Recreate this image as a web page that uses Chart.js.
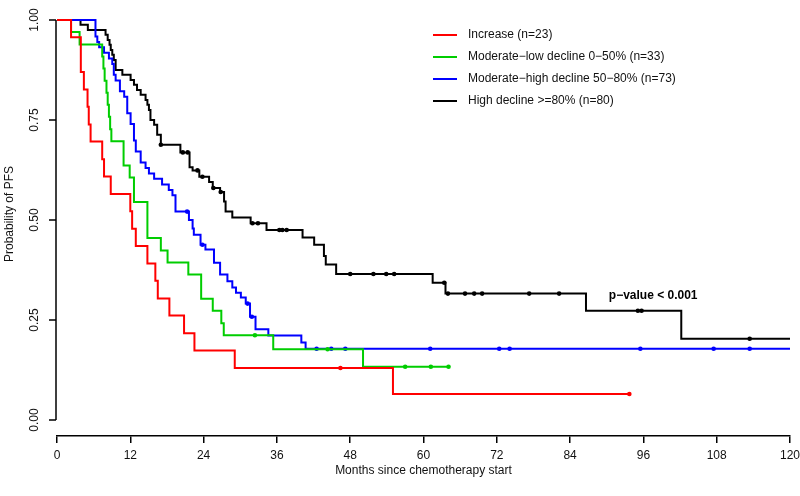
<!DOCTYPE html>
<html>
<head>
<meta charset="utf-8">
<script src="https://cdn.jsdelivr.net/npm/chart.js@4.4.1/dist/chart.umd.min.js"></script>
<style>
  html, body { margin: 0; padding: 0; background: #fff; }
  #wrap { width: 800px; height: 496px; position: relative; }
</style>
</head>
<body>
<div id="wrap"><canvas id="kmChart"></canvas></div>
<script>
// Tick values
const xTicks = [0, 12, 24, 36, 48, 60, 72, 84, 96, 108, 120];
const yTicks = [0, 0.25, 0.5, 0.75, 1];

// Increase (n=23)
const redTimes = [0, 2.3, 3.9, 4.4, 5.0, 5.2, 5.5, 7.4, 7.7, 8.8, 12.0, 12.3, 12.9, 14.8, 16.1, 16.5, 18.4, 20.8, 22.5, 29.1, 55.0];
const redSurv = [1, 0.957, 0.870, 0.826, 0.783, 0.739, 0.696, 0.652, 0.609, 0.565, 0.522, 0.478, 0.435, 0.391, 0.348, 0.304, 0.261, 0.217, 0.174, 0.130, 0.065];
const redCensor = [46.4, 93.7];
const redEnd = 93.7;

// Moderate-low decline (n=33)
const greenTimes = [0, 2.3, 3.7, 7.4, 7.6, 7.8, 8.1, 8.3, 8.5, 8.7, 8.9, 10.9, 11.9, 12.6, 14.8, 17.0, 18.1, 21.5, 23.6, 25.5, 26.9, 27.3, 35.4, 50.1];
const greenSurv = [1, 0.970, 0.939, 0.909, 0.879, 0.848, 0.818, 0.788, 0.758, 0.727, 0.697, 0.636, 0.606, 0.545, 0.455, 0.424, 0.394, 0.364, 0.303, 0.273, 0.242, 0.212, 0.177, 0.133];
const greenCensor = [32.4, 44.3, 57.0, 61.2, 64.1];
const greenEnd = 64.1;

// Moderate-high decline (n=73)
const blueTimes = [0, 6.3, 6.6, 6.9, 7.7, 8.5, 9.05, 9.3, 9.6, 10.3, 11.0, 11.5, 12.05, 12.6, 12.9, 13.7, 14.5, 15.05, 15.9, 17.2, 18.3, 18.9, 19.4, 21.6, 22.2, 22.4, 23.5, 24.3, 25.7, 26.7, 27.9, 28.7, 29.3, 30.1, 30.9, 31.6, 32.5, 34.6, 40.0, 40.7];
const blueSurv = [1, 0.959, 0.945, 0.932, 0.918, 0.904, 0.890, 0.863, 0.849, 0.822, 0.808, 0.767, 0.740, 0.699, 0.671, 0.644, 0.630, 0.616, 0.603, 0.589, 0.575, 0.562, 0.521, 0.500, 0.479, 0.463, 0.438, 0.426, 0.393, 0.364, 0.347, 0.331, 0.318, 0.306, 0.291, 0.258, 0.227, 0.211, 0.194, 0.178];
const blueCensor = [21.3, 23.8, 31.2, 31.9, 42.5, 44.9, 47.2, 61.1, 72.4, 74.1, 95.5, 107.5, 113.4];
const blueEnd = 120;

// High decline (n=80)
const blackTimes = [0, 3.85, 5.05, 7.95, 8.3, 8.6, 8.8, 9.05, 9.3, 9.6, 10.7, 12.05, 12.6, 13.1, 13.7, 14.5, 14.8, 15.05, 15.3, 15.9, 16.4, 17.0, 20.2, 21.7, 22.2, 23.3, 24.9, 25.5, 26.7, 27.35, 27.6, 28.7, 31.7, 34.3, 40.2, 42.1, 43.7, 44.0, 45.7, 61.5, 63.6, 86.6, 102.2];
const blackSurv = [1, 0.988, 0.975, 0.963, 0.950, 0.938, 0.925, 0.913, 0.900, 0.875, 0.863, 0.850, 0.838, 0.825, 0.813, 0.800, 0.788, 0.775, 0.750, 0.738, 0.713, 0.688, 0.669, 0.632, 0.624, 0.608, 0.595, 0.580, 0.570, 0.546, 0.521, 0.506, 0.492, 0.475, 0.456, 0.438, 0.410, 0.389, 0.365, 0.343, 0.316, 0.273, 0.203];
const blackCensor = [17.0, 20.6, 21.4, 23.0, 23.8, 25.6, 26.8, 32.0, 32.9, 36.4, 36.9, 37.6, 48.0, 51.8, 53.9, 55.2, 63.4, 64.0, 66.8, 68.3, 69.6, 77.3, 82.2, 95.1, 95.7, 113.4];
const blackEnd = 120;

const groupLabels = [
  "Increase (n=23)",
  "Moderate\u2212low decline 0\u221250% (n=33)",
  "Moderate\u2212high decline 50\u221280% (n=73)",
  "High decline >=80% (n=80)",
];
const groupColors = ["#FF0000", "#00CD00", "#0000FF", "#000000"];
const pValueText = "p\u2212value < 0.001";

const FONT = '"Liberation Sans", Arial, sans-serif';

// step curve points, closed with the last follow-up time
function curvePoints(times, surv, end) {
  const pts = times.map((t, i) => ({ x: t, y: surv[i] }));
  pts.push({ x: end, y: surv[surv.length - 1] });
  return pts;
}

// censor marks sit on the curve at their time
function censorPoints(times, surv, censor) {
  return censor.map((c) => {
    let s = surv[0];
    times.forEach((t, i) => {
      if (t <= c) s = surv[i];
    });
    return { x: c, y: s };
  });
}

const groups = [
  [redTimes, redSurv, redEnd, redCensor],
  [greenTimes, greenSurv, greenEnd, greenCensor],
  [blueTimes, blueSurv, blueEnd, blueCensor],
  [blackTimes, blackSurv, blackEnd, blackCensor],
];

const datasets = [];
groups.forEach((g, i) => {
  datasets.push({
    label: groupLabels[i],
    data: curvePoints(g[0], g[1], g[2]),
    borderColor: groupColors[i],
    borderWidth: 2,
    stepped: true,
    pointRadius: 0,
    fill: false,
    showLine: true,
  });
  datasets.push({
    label: groupLabels[i] + " censored",
    data: censorPoints(g[0], g[1], g[3]),
    showLine: false,
    pointRadius: 2.3,
    pointBorderWidth: 0,
    pointBackgroundColor: groupColors[i],
    pointBorderColor: groupColors[i],
  });
});

// y axis in base-graphics style, legend and p-value
const decorPlugin = {
  id: "kmDecor",
  afterDraw(chart) {
    const { ctx, chartArea } = chart;
    const x = chart.scales.x;
    const y = chart.scales.y;
    const left = chartArea.left - 1;
    ctx.save();

    ctx.strokeStyle = "#000";
    ctx.lineWidth = 1.5;
    ctx.beginPath();
    ctx.moveTo(left, y.getPixelForValue(yTicks[0]));
    ctx.lineTo(left, y.getPixelForValue(yTicks[yTicks.length - 1]));
    yTicks.forEach((v) => {
      const py = y.getPixelForValue(v);
      ctx.moveTo(left, py);
      ctx.lineTo(left - 7, py);
    });
    ctx.stroke();

    ctx.fillStyle = "#111";
    ctx.font = "12px " + FONT;
    ctx.textAlign = "center";
    ctx.textBaseline = "middle";
    yTicks.forEach((v) => {
      ctx.save();
      ctx.translate(left - 21, y.getPixelForValue(v));
      ctx.rotate(-Math.PI / 2);
      ctx.fillText(v.toFixed(2), 0, 0);
      ctx.restore();
    });

    ctx.save();
    ctx.translate(10, (y.getPixelForValue(0) + y.getPixelForValue(1)) / 2 - 6);
    ctx.rotate(-Math.PI / 2);
    ctx.fillText("Probability of PFS", 0, 0);
    ctx.restore();

    // legend
    ctx.textAlign = "left";
    groupLabels.forEach((label, i) => {
      const ly = 35 + i * 22;
      ctx.strokeStyle = groupColors[i];
      ctx.lineWidth = 2;
      ctx.beginPath();
      ctx.moveTo(433, ly);
      ctx.lineTo(457, ly);
      ctx.stroke();
      ctx.fillStyle = "#111";
      ctx.fillText(label, 468, ly);
    });

    // p-value
    ctx.font = "bold 12px " + FONT;
    ctx.textAlign = "center";
    ctx.fillStyle = "#000";
    ctx.fillText(pValueText, x.getPixelForValue(97.6), y.getPixelForValue(0.31));

    ctx.restore();
  },
};

const kmChart = new Chart(document.getElementById("kmChart"), {
  type: "scatter",
  data: { datasets: datasets },
  options: {
    responsive: true,
    maintainAspectRatio: false,
    animation: false,
    layout: { padding: { left: 57, right: 10, top: 0, bottom: 0 } },
    plugins: {
      legend: { display: false },
      tooltip: { enabled: false },
    },
    scales: {
      x: {
        type: "linear",
        min: 0,
        max: 120,
        afterBuildTicks: function (scale) {
          scale.ticks = xTicks.map((v) => ({ value: v }));
        },
        afterFit: function (scale) {
          scale.height = 60;
          scale.paddingRight = 0;
        },
        grid: {
          drawOnChartArea: false,
          drawTicks: true,
          tickLength: 7,
          color: "#000",
          lineWidth: 1.5,
        },
        border: { display: true, color: "#000", width: 1.5 },
        ticks: {
          color: "#111",
          font: { family: FONT, size: 12 },
          padding: 5,
          maxRotation: 0,
          autoSkip: false,
        },
        title: {
          display: true,
          text: "Months since chemotherapy start",
          color: "#111",
          font: { family: FONT, size: 12 },
          padding: { top: 0, bottom: 18 },
        },
      },
      y: {
        display: false,
        min: -0.04,
        max: 1.04,
      },
    },
  },
  plugins: [decorPlugin],
});
</script>
</body>
</html>
